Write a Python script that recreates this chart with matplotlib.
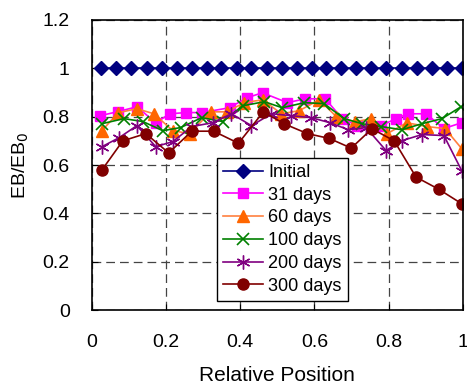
import numpy as np
import matplotlib.pyplot as plt

plt.rcParams['font.family'] = ['Liberation Sans', 'DejaVu Sans']

# Datos
x_initial = [0.024, 0.065, 0.105, 0.148, 0.188, 0.228, 0.269, 0.309, 0.349,
             0.390, 0.430, 0.473, 0.513, 0.554, 0.594, 0.632, 0.672, 0.712,
             0.753, 0.793, 0.836, 0.876, 0.917, 0.957, 0.997]
y_initial = [1.0] * 25

x_31 = [0.022, 0.070, 0.121, 0.172, 0.210, 0.253, 0.296, 0.371, 0.417, 0.460,
        0.527, 0.575, 0.629, 0.675, 0.715, 0.780, 0.820, 0.852, 0.901, 0.949, 0.997]
y_31 = [0.804, 0.821, 0.841, 0.775, 0.812, 0.817, 0.817, 0.837, 0.878, 0.899,
        0.858, 0.874, 0.874, 0.792, 0.763, 0.763, 0.792, 0.812, 0.812, 0.751, 0.775]

x_60 = [0.027, 0.070, 0.121, 0.167, 0.218, 0.263, 0.320, 0.363, 0.411, 0.460,
        0.511, 0.559, 0.613, 0.659, 0.710, 0.753, 0.796, 0.849, 0.903, 0.952, 0.997]
y_60 = [0.742, 0.816, 0.833, 0.812, 0.742, 0.730, 0.820, 0.820, 0.858, 0.870,
        0.812, 0.825, 0.870, 0.800, 0.779, 0.792, 0.730, 0.775, 0.759, 0.751, 0.668]

x_100 = [0.027, 0.086, 0.137, 0.191, 0.239, 0.296, 0.352, 0.406, 0.465, 0.513,
         0.573, 0.626, 0.680, 0.728, 0.780, 0.836, 0.890, 0.944, 0.995]
y_100 = [0.771, 0.792, 0.780, 0.742, 0.755, 0.796, 0.780, 0.845, 0.862, 0.837,
         0.858, 0.854, 0.792, 0.771, 0.759, 0.746, 0.771, 0.792, 0.841]

x_200 = [0.027, 0.073, 0.121, 0.172, 0.218, 0.269, 0.325, 0.376, 0.430, 0.484,
         0.538, 0.591, 0.642, 0.691, 0.739, 0.793, 0.836, 0.890, 0.949, 0.997]
y_200 = [0.676, 0.713, 0.763, 0.676, 0.697, 0.759, 0.775, 0.812, 0.763, 0.812,
         0.804, 0.796, 0.775, 0.746, 0.755, 0.660, 0.701, 0.726, 0.722, 0.577]

x_300 = [0.027, 0.083, 0.145, 0.207, 0.269, 0.328, 0.395, 0.462, 0.519, 0.581,
         0.640, 0.699, 0.755, 0.815, 0.874, 0.935, 0.997]
y_300 = [0.58, 0.70, 0.73, 0.65, 0.74, 0.74, 0.69, 0.82, 0.77, 0.73,
         0.71, 0.67, 0.75, 0.70, 0.55, 0.50, 0.44]

fig = plt.figure(figsize=(4.67, 3.92), dpi=100)
ax = fig.add_axes([0.197, 0.209, 0.794, 0.74])

ax.plot(x_initial, y_initial, color='#000080', marker='D', ms=7, lw=1.2, label='Initial')
ax.plot(x_31, y_31, color='#FF00FF', marker='s', ms=7.5, lw=1.2, label='31 days')
ax.plot(x_60, y_60, color='#FF8040', marker='^', ms=9, mfc='#FF6600', mec='#FF6600',
        lw=1.2, label='60 days')
ax.plot(x_100, y_100, color='#008000', marker='x', ms=8, mew=1.2, lw=1.2, label='100 days')
ax.plot(x_200, y_200, color='#800080', marker=(6, 2, 0), ms=10, mew=1.0, lw=1.2,
        label='200 days')
ax.plot(x_300, y_300, color='#800000', marker='o', ms=8, lw=1.2, label='300 days')

ax.set_xlim(0, 1)
ax.set_ylim(0, 1.2)
ax.set_xticks([0, 0.2, 0.4, 0.6, 0.8, 1])
ax.set_xticklabels(['0', '0.2', '0.4', '0.6', '0.8', '1'])
ax.set_yticks([0, 0.2, 0.4, 0.6, 0.8, 1, 1.2])
ax.set_yticklabels(['0', '0.2', '0.4', '0.6', '0.8', '1', '1.2'])
ax.tick_params(axis='x', direction='in', length=4, labelsize=14, pad=17)
ax.tick_params(axis='y', direction='in', length=4, labelsize=14, pad=16)
ax.grid(True, color='#444444', linestyle=(0, (7, 4)), lw=0.9)
for s in ax.spines.values():
    s.set_linewidth(1.2)

ax.set_xlabel('Relative Position', fontsize=15, labelpad=11)
ax.set_ylabel('EB/EB$_0$', fontsize=14, labelpad=8)

leg = ax.legend(loc='lower left', bbox_to_anchor=(0.337, 0.031),
                fontsize=13, frameon=True, fancybox=False,
                edgecolor='black', framealpha=1, borderaxespad=0,
                handlelength=2.2, handletextpad=0.3, labelspacing=0.32,
                borderpad=0.35)
leg.get_frame().set_linewidth(1.0)

fig.savefig('out.png', dpi=100)
